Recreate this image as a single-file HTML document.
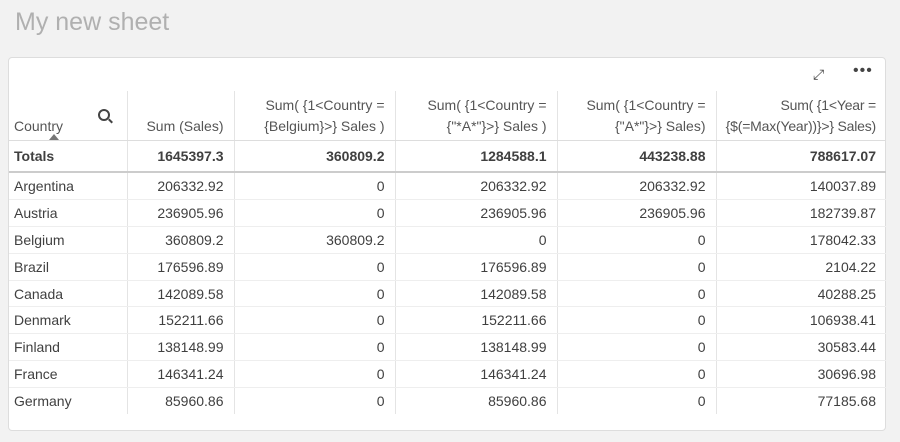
<!DOCTYPE html><html><head><style>
body{margin:0;width:900px;height:442px;background:#f2f2f2;font-family:"Liberation Sans",sans-serif;overflow:hidden;position:relative}
.title{position:absolute;left:15px;top:8px;font-size:25px;color:#b0b0b0}
.card{position:absolute;left:8px;top:57px;width:878px;height:374px;background:#fff;border:1px solid #ddd;border-radius:4px;box-sizing:border-box}
table{position:absolute;left:0;top:33px;width:877px;border-collapse:collapse;font-size:14px;color:#404040;table-layout:fixed}
td,th{padding:0 10px;text-align:right;border-left:1px solid #e4e4e4;white-space:nowrap;overflow:hidden}
td:first-child,th:first-child{text-align:left;border-left:none;padding-left:5px}
th{font-weight:normal;height:46px;vertical-align:bottom;padding-bottom:3px;line-height:21px;border-bottom:1px solid #ddd;color:#555}
th:last-child{padding-left:0;letter-spacing:-0.2px}
tr.tot td{font-weight:bold;height:30px;border-bottom:2px solid #ccc}
tr.d td{height:25.9px;border-bottom:1px solid #eee}
tr.d:last-child td{border-bottom:none}
</style></head><body>
<div class="title">My new sheet</div>
<div class="card">
<div style="position:absolute;left:804px;top:8px;font-size:14px;color:#444">⤢</div>
<div style="position:absolute;left:844px;top:4px;font-size:16px;color:#444;letter-spacing:1px">•••</div>
<table>
<colgroup><col style="width:118px"><col style="width:107px"><col style="width:161px"><col style="width:162px"><col style="width:159px"><col style="width:170px"></colgroup>
<tr><th style="position:relative">Country<span style="position:absolute;left:89px;top:18px;width:8px;height:8px;border:2px solid #444;border-radius:50%"></span><span style="position:absolute;left:99px;top:29px;width:5px;height:2px;background:#444;transform:rotate(45deg)"></span><span style="position:absolute;left:40px;bottom:0;width:0;height:0;border:5px solid transparent;border-bottom:6px solid #777;border-top:0"></span></th><th>Sum (Sales)</th><th>Sum( {1&lt;Country =<br>{Belgium}&gt;} Sales )</th><th>Sum( {1&lt;Country =<br>{"*A*"}&gt;} Sales )</th><th>Sum( {1&lt;Country =<br>{"A*"}&gt;} Sales)</th><th>Sum( {1&lt;Year =<br>{$(=Max(Year))}&gt;} Sales)</th></tr>
<tr class="tot"><td>Totals</td><td>1645397.3</td><td>360809.2</td><td>1284588.1</td><td>443238.88</td><td>788617.07</td></tr>
<tr class="d"><td>Argentina</td><td>206332.92</td><td>0</td><td>206332.92</td><td>206332.92</td><td>140037.89</td></tr>
<tr class="d"><td>Austria</td><td>236905.96</td><td>0</td><td>236905.96</td><td>236905.96</td><td>182739.87</td></tr>
<tr class="d"><td>Belgium</td><td>360809.2</td><td>360809.2</td><td>0</td><td>0</td><td>178042.33</td></tr>
<tr class="d"><td>Brazil</td><td>176596.89</td><td>0</td><td>176596.89</td><td>0</td><td>2104.22</td></tr>
<tr class="d"><td>Canada</td><td>142089.58</td><td>0</td><td>142089.58</td><td>0</td><td>40288.25</td></tr>
<tr class="d"><td>Denmark</td><td>152211.66</td><td>0</td><td>152211.66</td><td>0</td><td>106938.41</td></tr>
<tr class="d"><td>Finland</td><td>138148.99</td><td>0</td><td>138148.99</td><td>0</td><td>30583.44</td></tr>
<tr class="d"><td>France</td><td>146341.24</td><td>0</td><td>146341.24</td><td>0</td><td>30696.98</td></tr>
<tr class="d"><td>Germany</td><td>85960.86</td><td>0</td><td>85960.86</td><td>0</td><td>77185.68</td></tr>
</table>
</div>
</body></html>
